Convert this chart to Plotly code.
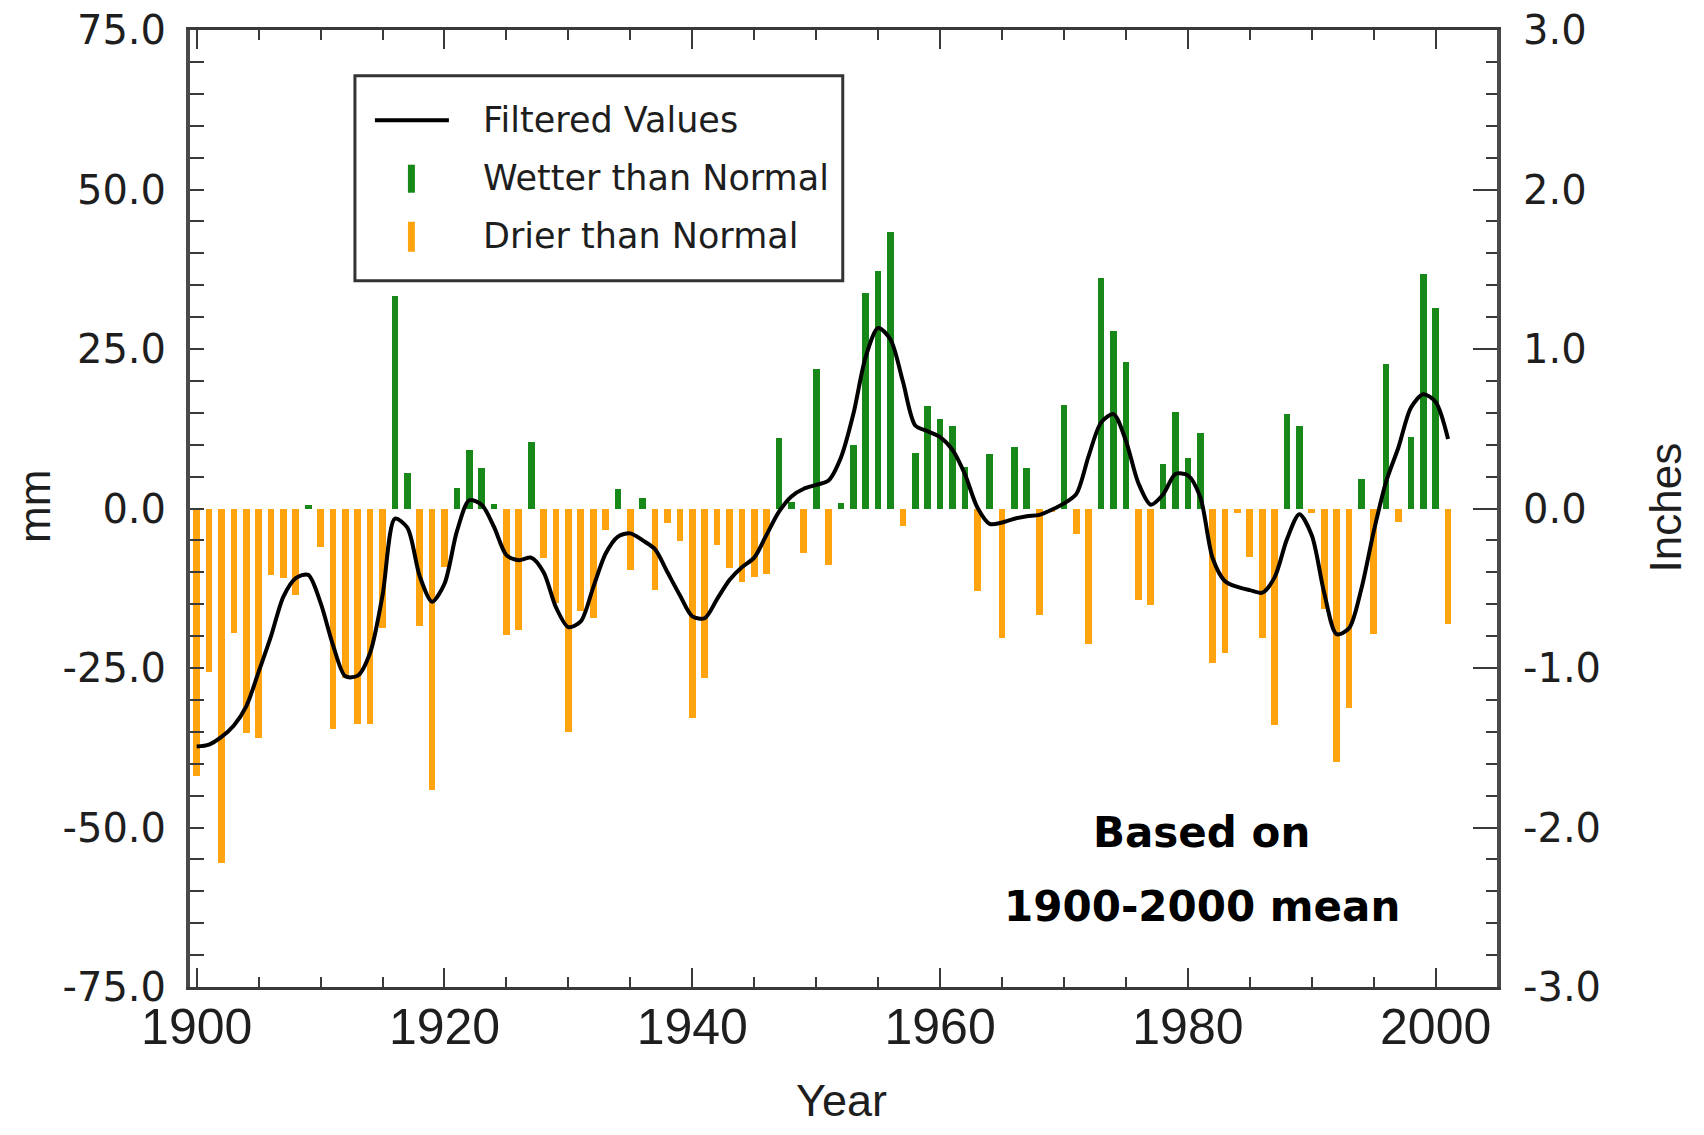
import plotly.graph_objects as go

# ---------------- data ----------------
years = list(range(1900, 2002))

anomaly_mm = [
    -42.0, -25.6, -55.6, -19.5, -35.2, -36.0, -10.5, -10.9, -13.6, 0.5,
    -6.0, -34.6, -26.5, -33.8, -33.8, -18.8, 33.3, 5.5, -18.4, -44.1,
    -9.2, 3.2, 9.2, 6.4, 0.7, -19.9, -19.0, 10.4, -7.7, -14.8,
    -35.0, -16.0, -17.1, -3.3, 3.0, -9.7, 1.6, -12.7, -2.2, -5.1,
    -32.9, -26.5, -5.7, -9.3, -11.5, -10.8, -10.2, 11.1, 1.0, -6.9,
    21.8, -8.8, 0.9, 10.0, 33.7, 37.3, 43.4, -2.8, 8.7, 16.1,
    14.1, 12.9, 6.5, -13.0, 8.6, -20.3, 9.7, 6.3, -16.7, -0.5,
    16.3, -4.0, -21.3, 36.2, 27.9, 22.9, -14.4, -15.2, 6.9, 15.2,
    7.9, 11.9, -24.2, -22.6, -0.7, -7.6, -20.3, -34.0, 14.8, 12.9,
    -0.7, -15.8, -39.8, -31.2, 4.7, -19.7, 22.6, -2.1, 11.2, 36.8,
    31.4, -18.1,
]

filtered_mm = [
    -37.3, -37.0, -35.8, -34.0, -31.0, -25.6, -20.0, -13.8, -10.9, -10.4,
    -14.8, -21.4, -26.3, -26.2, -22.6, -13.6, -1.6, -3.0, -10.6, -14.6,
    -11.8, -3.6, 1.3, 0.6, -2.9, -7.3, -8.1, -7.7, -10.0, -15.5,
    -18.6, -17.7, -12.4, -7.1, -4.4, -3.9, -5.0, -6.4, -10.0, -13.6,
    -16.9, -17.2, -14.2, -11.2, -9.2, -7.7, -4.1, -0.5, 1.9, 3.1,
    3.7, 4.4, 8.0, 14.8, 23.8, 28.3, 26.5, 19.9, 13.0, 12.1,
    11.2, 9.2, 5.4, 0.2, -2.4, -2.2, -1.6, -1.2, -1.0, -0.2,
    0.8, 2.3, 8.3, 13.5, 14.8, 10.6, 4.0, 0.6, 2.2, 5.4,
    5.2, 1.8, -7.8, -11.4, -12.3, -12.8, -13.2, -10.8, -4.8, -0.9,
    -4.2, -13.2, -19.7, -18.8, -12.6, -3.6, 4.2, 9.6, 15.8, 17.9,
    16.7, 10.9,
]

mm_ticks = [75, 50, 25, 0, -25, -50, -75]
inch_ticks = [3, 2, 1, 0, -1, -2, -3]
year_ticks = [1900, 1920, 1940, 1960, 1980, 2000]

legend_labels = ["Filtered Values", "Wetter than Normal", "Drier than Normal"]
note_lines = ["Based on", "1900-2000 mean"]

# ---------------- styles ----------------
GREEN = "#188818"
ORANGE = "#FFA30F"
AXIS = "#3a3a3a"
TXT = "#1e1e1e"

wet_x = [y for y, v in zip(years, anomaly_mm) if v >= 0]
wet_y = [v for v in anomaly_mm if v >= 0]
dry_x = [y for y, v in zip(years, anomaly_mm) if v < 0]
dry_y = [v for v in anomaly_mm if v < 0]

fig = go.Figure()
fig.add_trace(go.Bar(x=wet_x, y=wet_y, width=0.54, marker=dict(color=GREEN, line=dict(width=0)),
                     name=legend_labels[1], showlegend=False))
fig.add_trace(go.Bar(x=dry_x, y=dry_y, width=0.54, marker=dict(color=ORANGE, line=dict(width=0)),
                     name=legend_labels[2], showlegend=False))
fig.add_trace(go.Scatter(x=years, y=filtered_mm, mode="lines",
                         line=dict(color="black", width=4, shape="spline", smoothing=0.8),
                         name=legend_labels[0], showlegend=False))
# invisible trace to carry the inches axis
fig.add_trace(go.Scatter(x=[years[0]], y=[0], yaxis="y2", mode="none", showlegend=False,
                         hoverinfo="skip"))

# page body has an 8px default margin -> figure sized to fit and offsets compensated
OFF = 8
W, H = 1704 - 2 * OFF, 1135 - 2 * OFF
# plot area in screen pixels (reference)
SL, SR, ST, SB = 190.0, 1497.5, 30.4, 986.7
L, R, T, B = SL - OFF, SR - OFF, ST - OFF, SB - OFF


def px(xs):
    return (xs - SL) / (SR - SL)


def py(ys):
    return (SB - ys) / (SB - ST)


fig.update_layout(
    width=W, height=H,
    margin=dict(l=L, r=W - R, t=T, b=H - B, pad=0, autoexpand=False),
    paper_bgcolor="white", plot_bgcolor="white",
    barmode="overlay", bargap=0,
    showlegend=False,
    xaxis=dict(
        range=[1899.46, 2004.95], tickvals=year_ticks, ticks="inside", ticklen=19, tickwidth=2,
        tickcolor=AXIS, showline=True, linecolor=AXIS, linewidth=3, mirror="ticks",
        showgrid=False, zeroline=False, automargin=False,
        minor=dict(dtick=5, tick0=1900, ticks="inside", ticklen=10, tickwidth=2, tickcolor=AXIS),
        tickfont=dict(family="Liberation Sans, Arial, sans-serif", size=50, color=TXT),
        ticklabelstandoff=-6, ticklabeloverflow="allow",
    ),
    yaxis=dict(
        range=[-75, 75], tickvals=mm_ticks, ticktext=["%.1f" % v for v in mm_ticks],
        ticks="inside", ticklen=14, automargin=False,
        tickwidth=2, tickcolor=AXIS, showline=True, linecolor="#4a4a4a", linewidth=4,
        showgrid=False, zeroline=False,
        minor=dict(dtick=5, tick0=0, ticks="inside", ticklen=14, tickwidth=2, tickcolor=AXIS),
        tickfont=dict(family="DejaVu Sans, sans-serif", size=40, color=TXT),
        ticklabelstandoff=12, ticklabeloverflow="allow",
    ),
    yaxis2=dict(
        range=[-3, 3], tickvals=inch_ticks, ticktext=["%.1f" % v for v in inch_ticks],
        overlaying="y", side="right", automargin=False,
        ticks="inside", ticklen=24, tickwidth=2, tickcolor=AXIS, showline=True,
        linecolor="#4a4a4a", linewidth=4, showgrid=False, zeroline=False,
        minor=dict(dtick=0.2, tick0=0, ticks="inside", ticklen=11, tickwidth=2, tickcolor=AXIS),
        tickfont=dict(family="DejaVu Sans, sans-serif", size=40, color=TXT),
        ticklabelstandoff=14, ticklabeloverflow="allow",
    ),
)

# axis titles
fig.add_annotation(text="mm", x=px(35), y=py(507), xref="paper", yref="paper", showarrow=False,
                   textangle=-90, font=dict(family="Liberation Sans, Arial, sans-serif", size=44, color=TXT),
                   xanchor="center", yanchor="middle")
fig.add_annotation(text="Inches", x=px(1667), y=py(507), xref="paper", yref="paper", showarrow=False,
                   textangle=-90, font=dict(family="Liberation Sans, Arial, sans-serif", size=44, color=TXT),
                   xanchor="center", yanchor="middle")
fig.add_annotation(text="Year", x=px(842), y=py(1100), xref="paper", yref="paper", showarrow=False,
                   font=dict(family="Liberation Sans, Arial, sans-serif", size=45, color=TXT),
                   xanchor="center", yanchor="middle", borderpad=0)

# note
for txt, yy in zip(note_lines, [832.7, 906.0]):
    fig.add_annotation(text="<b>%s</b>" % txt, x=px(1202), y=py(yy), xref="paper", yref="paper",
                       showarrow=False, font=dict(family="DejaVu Sans, sans-serif", size=42, color="black"),
                       xanchor="center", yanchor="middle")

# manual legend
fig.add_shape(type="rect", xref="paper", yref="paper", x0=px(355), x1=px(843), y0=py(281), y1=py(76),
              line=dict(color="#333333", width=3), fillcolor="white", layer="above")
fig.add_shape(type="line", xref="paper", yref="paper", x0=px(375), x1=px(449), y0=py(120.7), y1=py(120.7),
              line=dict(color="black", width=4), layer="above")
fig.add_shape(type="rect", xref="paper", yref="paper", x0=px(408), x1=px(415), y0=py(193), y1=py(165),
              line=dict(width=0), fillcolor=GREEN, layer="above")
fig.add_shape(type="rect", xref="paper", yref="paper", x0=px(408), x1=px(415), y0=py(252), y1=py(222),
              line=dict(width=0), fillcolor=ORANGE, layer="above")
for txt, yy in zip(legend_labels, [120.7, 178.3, 236.7]):
    fig.add_annotation(text=txt, x=px(481), y=py(yy), xref="paper", yref="paper", showarrow=False,
                       font=dict(family="DejaVu Sans, sans-serif", size=35, color=TXT),
                       xanchor="left", yanchor="middle")

fig.write_html("out.html")
